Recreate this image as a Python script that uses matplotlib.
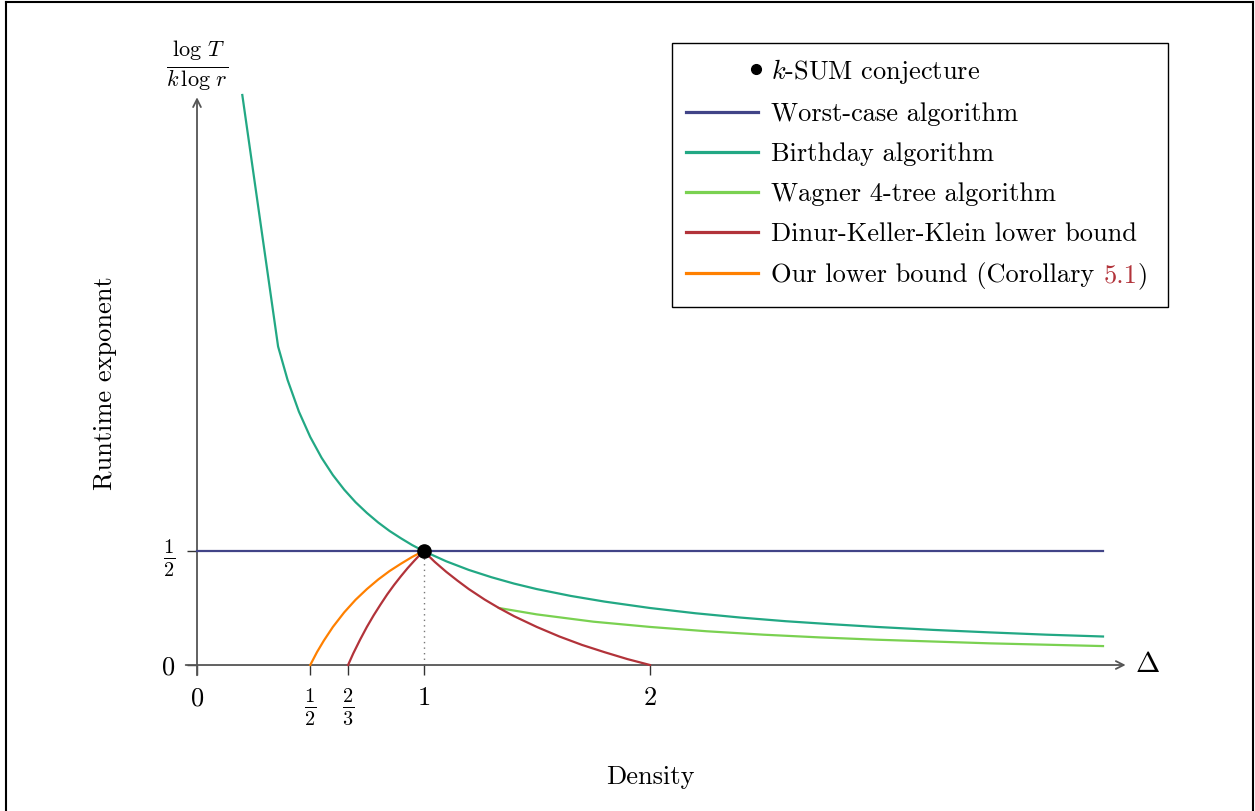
import matplotlib
matplotlib.use("Agg")
import matplotlib.pyplot as plt
from matplotlib.lines import Line2D
from matplotlib.patches import Rectangle
from matplotlib.legend_handler import HandlerBase
from matplotlib.transforms import IdentityTransform

plt.rcParams['font.family'] = ['cmr10', 'DejaVu Serif']
plt.rcParams['mathtext.fontset'] = 'cm'
plt.rcParams['axes.formatter.use_mathtext'] = True

# ---------------- data ----------------
worst_x = [0.0, 4.0]
worst_y = [0.5, 0.5]

birthday_x = [0.2, 0.358, 0.4, 0.45, 0.5, 0.55, 0.6, 0.65, 0.7, 0.75, 0.8, 0.85, 0.9,
              0.95, 1.0, 1.1, 1.2, 1.3, 1.4, 1.5, 1.65, 1.8, 2.0, 2.2, 2.4, 2.6,
              2.8, 3.0, 3.25, 3.5, 3.75, 4.0]
birthday_y = [2.5, 1.397, 1.25, 1.111, 1.0, 0.909, 0.833, 0.769, 0.714, 0.667, 0.625,
              0.588, 0.556, 0.526, 0.5, 0.455, 0.417, 0.385, 0.357, 0.333, 0.303,
              0.278, 0.25, 0.227, 0.208, 0.192, 0.179, 0.167, 0.154, 0.143, 0.133,
              0.125]

wagner_x = [1.333, 1.5, 1.75, 2.0, 2.25, 2.5, 2.75, 3.0, 3.25, 3.5, 3.75, 4.0]
wagner_y = [0.25, 0.222, 0.190, 0.167, 0.148, 0.133, 0.121, 0.111, 0.103, 0.095, 0.089, 0.083]

dkk_x = [0.667, 0.69, 0.72, 0.75, 0.78, 0.81, 0.84, 0.87, 0.9, 0.93, 0.96, 1.0,
         1.05, 1.1, 1.15, 1.2, 1.27, 1.333, 1.4, 1.5, 1.6, 1.7, 1.8, 1.9, 2.0]
dkk_y = [0.0, 0.051, 0.111, 0.167, 0.218, 0.265, 0.310, 0.351, 0.389, 0.425, 0.458,
         0.5, 0.452, 0.409, 0.370, 0.333, 0.287, 0.25, 0.214, 0.167, 0.125, 0.088,
         0.056, 0.026, 0.0]

ours_x = [0.5, 0.53, 0.56, 0.6, 0.65, 0.7, 0.75, 0.8, 0.85, 0.9, 0.95, 1.0]
ours_y = [0.0, 0.057, 0.107, 0.167, 0.231, 0.286, 0.333, 0.375, 0.412, 0.444, 0.474, 0.5]

conj_x = [1.0]
conj_y = [0.5]

xtick_vals = [0, 1/2, 2/3, 1, 2]
xtick_labels = ['$0$', r'$\frac{1}{2}$', r'$\frac{2}{3}$', '$1$', '$2$']
ytick_vals = [0, 1/2]
ytick_labels = ['$0$', r'$\frac{1}{2}$']

labels = [r'$k$-SUM conjecture', 'Worst-case algorithm', 'Birthday algorithm',
          'Wagner 4-tree algorithm', 'Dinur-Keller-Klein lower bound',
          'Our lower bound (Corollary']
ref_num = '5.1'
ref_close = ')'

c_worst = '#414487'
c_birth = '#22a884'
c_wagner = '#7ad151'
c_dkk = '#b2333a'
c_ours = '#ff8000'
axis_col = '#555555'

FS = 19
FRAC_FS = 21

# ---------------- figure ----------------
W, H = 1255, 811
fig = plt.figure(figsize=(W / 100, H / 100), dpi=100)
ax = fig.add_axes([0.10283, 0.09568, 0.83020, 0.81529])
ax.set_xlim(-0.3, 4.3)
ax.set_ylim(-0.3, 2.6)
for s in ax.spines.values():
    s.set_visible(False)
ax.spines['bottom'].set_position(('data', 0))
ax.spines['left'].set_position(('data', 0))

ax.set_xticks(xtick_vals)
ax.set_xticklabels(xtick_labels)
ax.set_yticks(ytick_vals)
ax.set_yticklabels(ytick_labels)
ax.tick_params(axis='both', direction='out', length=7.5, width=1.0, color='#333333',
               labelsize=FS)
ax.tick_params(axis='x', pad=8)
ax.tick_params(axis='y', pad=8)
for i, t in enumerate(ax.get_xticklabels()):
    if i in (1, 2):
        t.set_fontsize(FRAC_FS)
for i, t in enumerate(ax.get_yticklabels()):
    if i == 1:
        t.set_fontsize(FRAC_FS)

# axis lines with arrows
ax.annotate('', xy=(4.1, 0), xytext=(-0.05, 0),
            arrowprops=dict(arrowstyle='->', color=axis_col, lw=1.3,
                            shrinkA=0, shrinkB=0, mutation_scale=14))
ax.annotate('', xy=(0, 2.49), xytext=(0, -0.045),
            arrowprops=dict(arrowstyle='->', color=axis_col, lw=1.3,
                            shrinkA=0, shrinkB=0, mutation_scale=14))

# dotted guide
ax.plot([1, 1], [0, 0.5], color='#777777', lw=1.0, ls=(0, (1, 3)), zorder=1)

# curves
lw = 1.6
ax.plot(worst_x, worst_y, color=c_worst, lw=lw, zorder=3)
ax.plot(birthday_x, birthday_y, color=c_birth, lw=lw, zorder=3)
ax.plot(wagner_x, wagner_y, color=c_wagner, lw=lw, zorder=3)
ax.plot(dkk_x, dkk_y, color=c_dkk, lw=lw, zorder=4)
ax.plot(ours_x, ours_y, color=c_ours, lw=lw, zorder=4)
ax.plot(conj_x, conj_y, 'o', color='black', ms=9.5, zorder=6)

# axis labels
ax.text(4.195, 0, r'$\Delta$', fontsize=21, ha='center', va='center')
ax.text(0, 2.625, r'$\frac{\log\,T}{k\,\log\,r}$', fontsize=23, ha='center',
        va='center')
fig.text(650 / W, 1 - 777 / H, 'Density', fontsize=FS, ha='center', va='center')
fig.text(105 / W, 1 - 383 / H, 'Runtime exponent', fontsize=FS, ha='center',
         va='center', rotation=90)


# legend
class RightDot(HandlerBase):
    def create_artists(self, legend, orig_handle, xdescent, ydescent, width,
                       height, fontsize, trans):
        l = Line2D([width - xdescent - 1.5], [height / 2 - ydescent], marker='o',
                   color='black', ms=7, ls='none')
        l.set_transform(trans)
        return [l]


dot_handle = Line2D([], [], marker='o', color='black', ls='none')
hlw = 2.3
handles = [dot_handle,
           Line2D([], [], color=c_worst, lw=hlw),
           Line2D([], [], color=c_birth, lw=hlw),
           Line2D([], [], color=c_wagner, lw=hlw),
           Line2D([], [], color=c_dkk, lw=hlw),
           Line2D([], [], color=c_ours, lw=hlw)]
leg = fig.legend(handles, labels, loc='upper left',
                 bbox_to_anchor=(672 / W, 1 - 43 / H), bbox_transform=fig.transFigure,
                 fontsize=FS, frameon=False, borderaxespad=0, borderpad=0.52,
                 handlelength=2.75, handletextpad=0.5, labelspacing=0.62,
                 handler_map={dot_handle: RightDot()})

# figure border (left, top, right)
fig.add_artist(Line2D([6 / W, 6 / W], [0, 1 - 2 / H], transform=fig.transFigure,
                      color='black', lw=1.5))
fig.add_artist(Line2D([6 / W, 1253 / W], [1 - 2 / H, 1 - 2 / H],
                      transform=fig.transFigure, color='black', lw=1.5))
fig.add_artist(Line2D([1253 / W, 1253 / W], [0, 1 - 2 / H], transform=fig.transFigure,
                      color='black', lw=1.5))

# append the coloured reference "5.1" and closing parenthesis to the last entry
fig.canvas.draw()
renderer = fig.canvas.get_renderer()
lt = leg.get_texts()[-1]
bb = lt.get_window_extent(renderer)
bx, by = lt.get_transform().transform(lt.get_position())
fp = lt.get_fontproperties()


def ink_width(s):
    t = fig.text(0, 0, s, fontproperties=fp)
    w = t.get_window_extent(renderer).width
    t.remove()
    return w


w_num = ink_width(labels[-1] + ' ' + ref_num)
w_all = ink_width(labels[-1] + ' ' + ref_num + ref_close)
fig.text(bb.x0 + w_num, by, ref_num, fontproperties=fp, color=c_dkk, ha='right',
         va='baseline', transform=IdentityTransform(), zorder=10)
fig.text(bb.x0 + w_all, by, ref_close, fontproperties=fp, color='black', ha='right',
         va='baseline', transform=IdentityTransform(), zorder=10)

# legend frame drawn around entries plus the appended text
lb = leg.get_window_extent(renderer)
right = max(lb.x1, bb.x0 + w_all + 20)
bottom = lb.y0 - 4
frame = Rectangle((lb.x0 / W, bottom / H), (right - lb.x0) / W, (lb.y1 - bottom) / H,
                  transform=fig.transFigure, facecolor='white', edgecolor='black',
                  lw=1.0, zorder=1)
fig.add_artist(frame)
leg.set_zorder(5)

fig.savefig('out.png', dpi=100)
